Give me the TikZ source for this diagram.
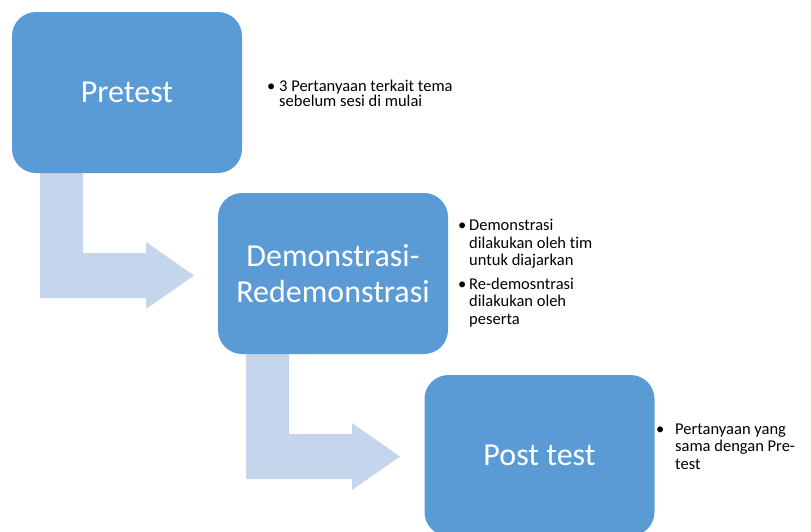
\documentclass[tikz,border=0pt]{standalone}
\usepackage{fontspec}
\setmainfont{Carlito}[Ligatures=NoCommon]
\definecolor{boxblue}{RGB}{91,155,213}
\definecolor{arrowblue}{RGB}{197,213,235}
\begin{document}
\begin{tikzpicture}[x=1pt,y=-1pt,
  stagebox/.style={draw=none,fill=boxblue,rounded corners=24pt,minimum width=230pt,minimum height=161pt,
    text=white,align=center,font=\fontsize{32}{36}\selectfont,inner sep=0pt},
  notes/.style={inner sep=0pt,anchor=base west,align=left,text=black},
  bendarrow/.style={fill=arrowblue,draw=none}]
\useasboundingbox (0,0) rectangle (811,531);
% boxes positions (centers)
\coordinate (c1) at (127,92.5);
\coordinate (c2) at (333,273.5);
\coordinate (c3) at (539.5,455.5);
% arrows (drawn first)
\foreach \sx/\sy in {12/173, 218/354}{
  \fill[arrowblue] (\sx+28,\sy-6) -- (\sx+71,\sy-6) -- (\sx+71,\sy+80) -- (\sx+134,\sy+80)
    -- (\sx+134,\sy+69) -- (\sx+182,\sy+102.5) -- (\sx+134,\sy+136) -- (\sx+134,\sy+125)
    -- (\sx+28,\sy+125) -- cycle;
}
\node[stagebox] (pre) at (c1) {Pretest};
\node[stagebox] (demo) at (c2) {Demonstrasi-\\Redemonstrasi};
\node[stagebox] (post) at (c3) {Post test};
% notes
\node[notes] (n1) at (267,91) {\fontsize{16.5}{15}\selectfont
  \begin{tabular}[t]{@{}l@{}l@{}}\makebox[12pt][l]{•} & 3 Pertanyaan terkait tema\\ & sebelum sesi di mulai\end{tabular}};
\node[notes] (n2) at (458,230.5) {\fontsize{16.5}{17.5}\selectfont
  \begin{tabular}[t]{@{}l@{}l@{}}\makebox[11pt][l]{•} & Demonstrasi\\ & dilakukan oleh tim\\ & untuk diajarkan\\[6pt]
  \makebox[11pt][l]{•} & Re-demosntrasi\\ & dilakukan oleh\\ & peserta\end{tabular}};
\node[notes] (n3) at (656,434) {\fontsize{16.5}{17.5}\selectfont
  \begin{tabular}[t]{@{}l@{}l@{}}\makebox[19pt][l]{•} & Pertanyaan yang\\ & sama dengan Pre-\\ & test\end{tabular}};
\end{tikzpicture}
\end{document}
